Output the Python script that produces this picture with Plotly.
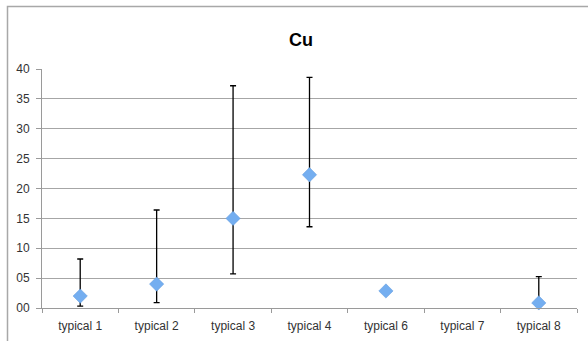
import plotly.graph_objects as go

categories = ["typical 1", "typical 2", "typical 3", "typical 4", "typical 6", "typical 7", "typical 8"]
values = [2.0, 4.0, 15.0, 22.3, 2.85, None, 0.85]
err_plus = [6.2, 12.4, 22.2, 16.3, 0, 0, 4.4]
err_minus = [1.7, 3.1, 9.3, 8.7, 0, 0, 0.55]
ytick_vals = [0, 5, 10, 15, 20, 25, 30, 35, 40]
ytick_text = ["00", "05", "10", "15", "20", "25", "30", "35", "40"]

W, H = 588, 341
L, R, T, B = 42, 11, 69, 33
pw, ph = W - L - R, H - T - B

fig = go.Figure()
fig.add_trace(go.Scatter(
    x=categories, y=values, mode="markers",
    marker=dict(symbol="diamond", size=11, color="#74aef0",
                line=dict(color="#5e98dc", width=0.5)),
    error_y=dict(type="data", symmetric=False, array=err_plus, arrayminus=err_minus,
                 color="black", thickness=1.3, width=3),
    showlegend=False,
    cliponaxis=False,
))

def px2paperx(px):
    return (px - L) / pw

def px2papery(py):
    return (H - B - py) / ph

fig.update_layout(
    width=W, height=H,
    margin=dict(l=L, r=R, t=T, b=B, autoexpand=False),
    paper_bgcolor="white", plot_bgcolor="white",
    font=dict(family="Liberation Sans, Arial, sans-serif", size=12, color="#333333"),
    xaxis=dict(type="category", categoryorder="array", categoryarray=categories,
               range=[-0.5, 6.5], showgrid=False, zeroline=False, automargin=False,
               showline=True, linecolor="#9a9a9a", linewidth=1,
               ticks="outside", tickson="boundaries", ticklen=4, tickcolor="#9a9a9a",
               ticklabelstandoff=7,
               tickfont=dict(size=12, color="#333333")),
    yaxis=dict(range=[0, 40], tickvals=ytick_vals, ticktext=ytick_text, automargin=False,
               showgrid=True, gridcolor="#a6a6a6", gridwidth=1, zeroline=False,
               showline=True, linecolor="#9a9a9a", linewidth=1,
               ticks="outside", ticklen=5, tickcolor="#9a9a9a",
               ticklabelstandoff=4,
               tickfont=dict(size=12, color="#333333")),
    shapes=[dict(type="rect", xref="paper", yref="paper",
                 x0=px2paperx(7.5), x1=px2paperx(600), y0=px2papery(360), y1=px2papery(6.5),
                 line=dict(color="#a8a8a8", width=1.5), fillcolor="rgba(0,0,0,0)", layer="below")],
    annotations=[dict(text="<b>Cu</b>", xref="paper", yref="paper",
                      x=px2paperx(301), y=px2papery(40), xanchor="center", yanchor="middle",
                      showarrow=False, font=dict(size=18, color="black",
                                                 family="Liberation Sans, Arial, sans-serif"))],
)

fig.write_html("out.html", config={"displayModeBar": False},
               post_script="document.body.style.margin='0';document.body.style.overflow='hidden';")
